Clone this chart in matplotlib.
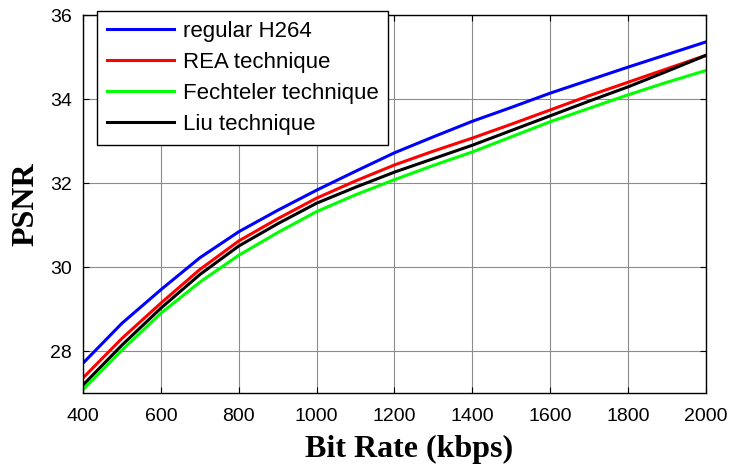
import matplotlib.pyplot as plt

# PSNR versus bit rate for the four coding schemes
bit_rate = [400, 500, 600, 700, 800, 900, 1000, 1100, 1200, 1300,
            1400, 1500, 1600, 1700, 1800, 1900, 2000]
psnr_h264 = [27.71, 28.66, 29.46, 30.22, 30.84, 31.35, 31.83, 32.28, 32.72,
             33.10, 33.47, 33.80, 34.14, 34.45, 34.76, 35.06, 35.36]
psnr_rea = [27.36, 28.30, 29.14, 29.94, 30.62, 31.15, 31.64, 32.05, 32.43,
            32.76, 33.07, 33.40, 33.74, 34.08, 34.40, 34.72, 35.04]
psnr_fechteler = [27.08, 28.02, 28.90, 29.64, 30.28, 30.82, 31.32, 31.72, 32.08,
                  32.42, 32.74, 33.10, 33.46, 33.78, 34.10, 34.40, 34.68]
psnr_liu = [27.19, 28.14, 29.02, 29.82, 30.50, 31.03, 31.52, 31.90, 32.26,
            32.58, 32.90, 33.25, 33.60, 33.95, 34.29, 34.66, 35.04]

labels = ['regular H264', 'REA technique', 'Fechteler technique', 'Liu technique']
colors = ['#0000ff', '#ff0000', '#00ff00', '#000000']
x_ticks = [400, 600, 800, 1000, 1200, 1400, 1600, 1800, 2000]
y_ticks = [28, 30, 32, 34, 36]

plt.rcParams['font.family'] = ['Liberation Sans', 'DejaVu Sans']

fig = plt.figure(figsize=(7.3, 4.65), dpi=100)
ax = fig.add_axes([0.1137, 0.1548, 0.8534, 0.8129])

series = [psnr_h264, psnr_rea, psnr_fechteler, psnr_liu]
for values, label, color in zip(series, labels, colors):
    ax.plot(bit_rate, values, color=color, linewidth=2.2, label=label)

ax.set_xlim(400, 2000)
ax.set_ylim(27, 36)
ax.set_xticks(x_ticks)
ax.set_yticks(y_ticks)
ax.tick_params(direction='in', length=4, labelsize=14, top=True, right=True,
               colors='black')
ax.tick_params(axis='x', pad=11)
ax.tick_params(axis='y', pad=8)
ax.grid(True, color='#8c8c8c', linewidth=0.8)
for spine in ax.spines.values():
    spine.set_linewidth(1.0)

ax.set_xlabel('Bit Rate (kbps)', family='Liberation Serif', fontweight='bold',
              fontsize=23)
ax.set_ylabel('PSNR', family='Liberation Serif', fontweight='bold',
              fontsize=23)
# label anchors in axes fraction
ax.xaxis.set_label_coords(0.523, -0.11)
ax.yaxis.set_label_coords(-0.069, 0.5)

leg = ax.legend(loc='upper left', bbox_to_anchor=(0.1329, 0.9763),
                bbox_transform=fig.transFigure, fontsize=16, frameon=True,
                fancybox=False, framealpha=1, edgecolor='black',
                handlelength=3.0, handletextpad=0.4, labelspacing=0.45,
                borderpad=0.45, borderaxespad=0)
leg.get_frame().set_linewidth(1.0)

fig.savefig('out.png', dpi=100)
